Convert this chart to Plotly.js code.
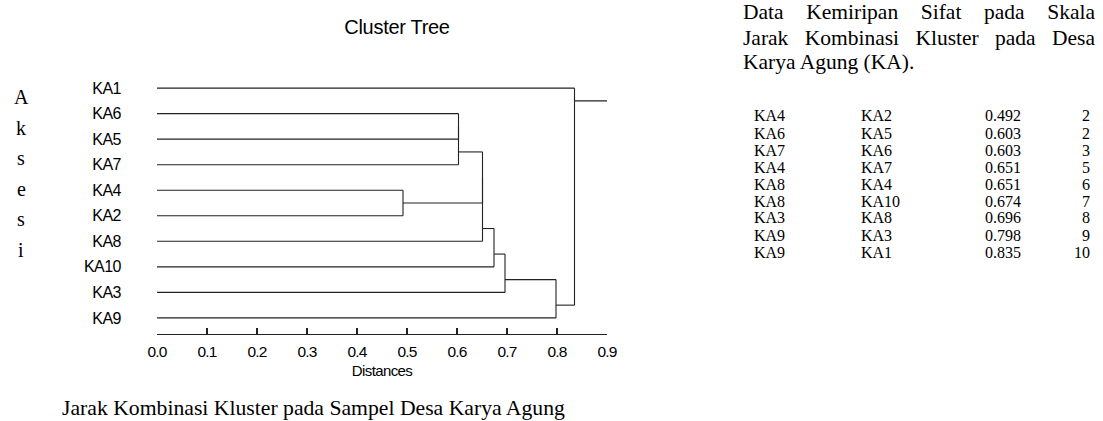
<!DOCTYPE html>
<html>
<head>
<meta charset="utf-8">
<script src="https://cdn.plot.ly/plotly-3.0.1.min.js"></script>
<style>
  html, body { margin: 0; padding: 0; background: #fff; }
  #chart { width: 1103px; height: 421px; }
  .ytick text { letter-spacing: -0.6px; }
  .xtick text { letter-spacing: -0.9px; }
  .gtitle { letter-spacing: -0.3px; }
  .g-xtitle text { letter-spacing: -0.6px; }
</style>
</head>
<body>
<div id="chart"></div>
<script>
// ---- data ----
var leafOrder = ['KA1', 'KA6', 'KA5', 'KA7', 'KA4', 'KA2', 'KA8', 'KA10', 'KA3', 'KA9'];
var mergeA    = ['KA4', 'KA6', 'KA7', 'KA4', 'KA8', 'KA8', 'KA3', 'KA9', 'KA9'];
var mergeB    = ['KA2', 'KA5', 'KA6', 'KA7', 'KA4', 'KA10', 'KA8', 'KA3', 'KA1'];
var mergeDist = [0.492, 0.603, 0.603, 0.651, 0.651, 0.674, 0.696, 0.798, 0.835];
var mergeSize = [2, 2, 3, 5, 6, 7, 8, 9, 10];
var xTicks    = [0.0, 0.1, 0.2, 0.3, 0.4, 0.5, 0.6, 0.7, 0.8, 0.9];
var sideLetters = ['A', 'k', 's', 'e', 's', 'i'];
var paraLines = ['Data Kemiripan Sifat pada Skala', 'Jarak Kombinasi Kluster pada Desa', 'Karya Agung (KA).'];
var paraJustify = [true, true, false];
var caption = 'Jarak Kombinasi Kluster pada Sampel Desa Karya Agung';
var chartTitle = 'Cluster Tree';
var xTitle = 'Distances';

// ---- layout geometry ----
var W = 1103, H = 421;
var mL = 157, mR = 496, mT = 72, mB = 87;
var pw = W - mL - mR, ph = H - mT - mB;
function px2x(px) { return (px - mL) / pw; }
function px2y(py) { return (H - mB - py) / ph; }
var paraLeft = 741, paraRight = 1093;

// ---- build dendrogram segments from merges ----
var clusters = leafOrder.map(function (name, i) {
  return { leaves: [i], y: i, h: 0 };
});
function findCluster(name) {
  var idx = leafOrder.indexOf(name);
  for (var k = 0; k < clusters.length; k++) {
    if (clusters[k].leaves.indexOf(idx) >= 0) return k;
  }
  return -1;
}
var lx = [], ly = [];
for (var m = 0; m < mergeDist.length; m++) {
  var ca = clusters[findCluster(mergeA[m])], cb = clusters[findCluster(mergeB[m])];
  var up = Math.min.apply(null, ca.leaves) < Math.min.apply(null, cb.leaves) ? ca : cb;
  var lo = up === ca ? cb : ca;
  var d = mergeDist[m];
  lx.push(up.h, d, null); ly.push(up.y, up.y, null);
  lx.push(lo.h, d, null); ly.push(lo.y, lo.y, null);
  lx.push(d, d, null); ly.push(up.y, lo.y, null);
  var newY = (Math.max.apply(null, up.leaves) + Math.min.apply(null, lo.leaves)) / 2;
  var nc = { leaves: up.leaves.concat(lo.leaves), y: newY, h: d };
  clusters = clusters.filter(function (c) { return c !== ca && c !== cb; });
  clusters.push(nc);
}
var root = clusters[0];
lx.push(root.h, xTicks[xTicks.length - 1], null); ly.push(root.y, root.y, null);

var trace = {
  type: 'scatter', mode: 'lines', x: lx, y: ly,
  line: { color: '#222', width: 1.1 }, hoverinfo: 'skip', showlegend: false
};

// ---- annotations ----
var serif = 'Liberation Serif, Times New Roman, serif';
var sans = 'Liberation Sans, Arial, sans-serif';
var ann = [];
sideLetters.forEach(function (ch, i) {
  ann.push({ xref: 'paper', yref: 'paper', x: px2x(21), y: px2y(97 + i * 30.5),
    text: ch, showarrow: false, xanchor: 'center', yanchor: 'middle',
    font: { family: serif, size: 20, color: '#000' } });
});
var paraStart = ann.length;
paraLines.forEach(function (t, i) {
  ann.push({ xref: 'paper', yref: 'paper', x: px2x(paraLeft), y: px2y(12.5 + i * 25),
    text: t, showarrow: false, xanchor: 'left', yanchor: 'middle', align: 'left',
    font: { family: serif, size: 21.5, color: '#000' } });
});
ann.push({ xref: 'paper', yref: 'paper', x: px2x(313), y: px2y(408),
  text: caption, showarrow: false, xanchor: 'center', yanchor: 'middle',
  font: { family: serif, size: 21.7, color: '#000' } });
for (var r = 0; r < mergeA.length; r++) {
  var yy = px2y(116 + r * 17);
  var f = { family: serif, size: 16, color: '#000' };
  ann.push({ xref: 'paper', yref: 'paper', x: px2x(752), y: yy, text: mergeA[r], showarrow: false,
    xanchor: 'left', yanchor: 'middle', font: f });
  ann.push({ xref: 'paper', yref: 'paper', x: px2x(859), y: yy, text: mergeB[r], showarrow: false,
    xanchor: 'left', yanchor: 'middle', font: f });
  ann.push({ xref: 'paper', yref: 'paper', x: px2x(983), y: yy, text: mergeDist[r].toFixed(3), showarrow: false,
    xanchor: 'left', yanchor: 'middle', font: f });
  ann.push({ xref: 'paper', yref: 'paper', x: px2x(1092), y: yy, text: String(mergeSize[r]), showarrow: false,
    xanchor: 'right', yanchor: 'middle', font: f });
}

var layout = {
  width: W, height: H,
  margin: { l: mL, r: mR, t: mT, b: mB, pad: 0 },
  paper_bgcolor: '#fff', plot_bgcolor: '#fff',
  showlegend: false,
  title: { text: chartTitle, x: 397 / W, xanchor: 'center', xref: 'container',
    y: 1 - 27 / H, yanchor: 'middle', yref: 'container',
    font: { family: sans, size: 20, color: '#000' } },
  xaxis: {
    range: [xTicks[0], xTicks[xTicks.length - 1]],
    tickvals: xTicks, ticktext: xTicks.map(function (v) { return v.toFixed(1); }),
    ticks: 'inside', ticklen: 6, tickwidth: 1.1, tickcolor: '#222',
    showline: true, linecolor: '#222', linewidth: 1.1,
    showgrid: false, zeroline: false, fixedrange: true,
    ticklabelstandoff: 3,
    tickfont: { family: sans, size: 15.5, color: '#000' },
    title: { text: xTitle, standoff: 6, font: { family: sans, size: 15, color: '#000' } }
  },
  yaxis: {
    range: [9.63, -0.63],
    tickvals: leafOrder.map(function (_, i) { return i; }), ticktext: leafOrder,
    ticks: 'outside', ticklen: 32, tickcolor: 'rgba(0,0,0,0)',
    showline: false, showgrid: false, zeroline: false, fixedrange: true,
    tickfont: { family: sans, size: 16, color: '#000' }
  },
  annotations: ann
};

Plotly.newPlot('chart', [trace], layout, { displayModeBar: false, staticPlot: true }).then(function (gd) {
  // justify the paragraph lines to the column width
  paraLines.forEach(function (t, i) {
    if (!paraJustify[i]) return;
    var g = gd.querySelector('.annotation[data-index="' + (paraStart + i) + '"] .annotation-text');
    if (!g) return;
    var w = g.getComputedTextLength();
    var spaces = t.split(' ').length - 1;
    var extra = (paraRight - paraLeft - w) / spaces;
    g.style.wordSpacing = extra + 'px';
  });
});
</script>
</body>
</html>
